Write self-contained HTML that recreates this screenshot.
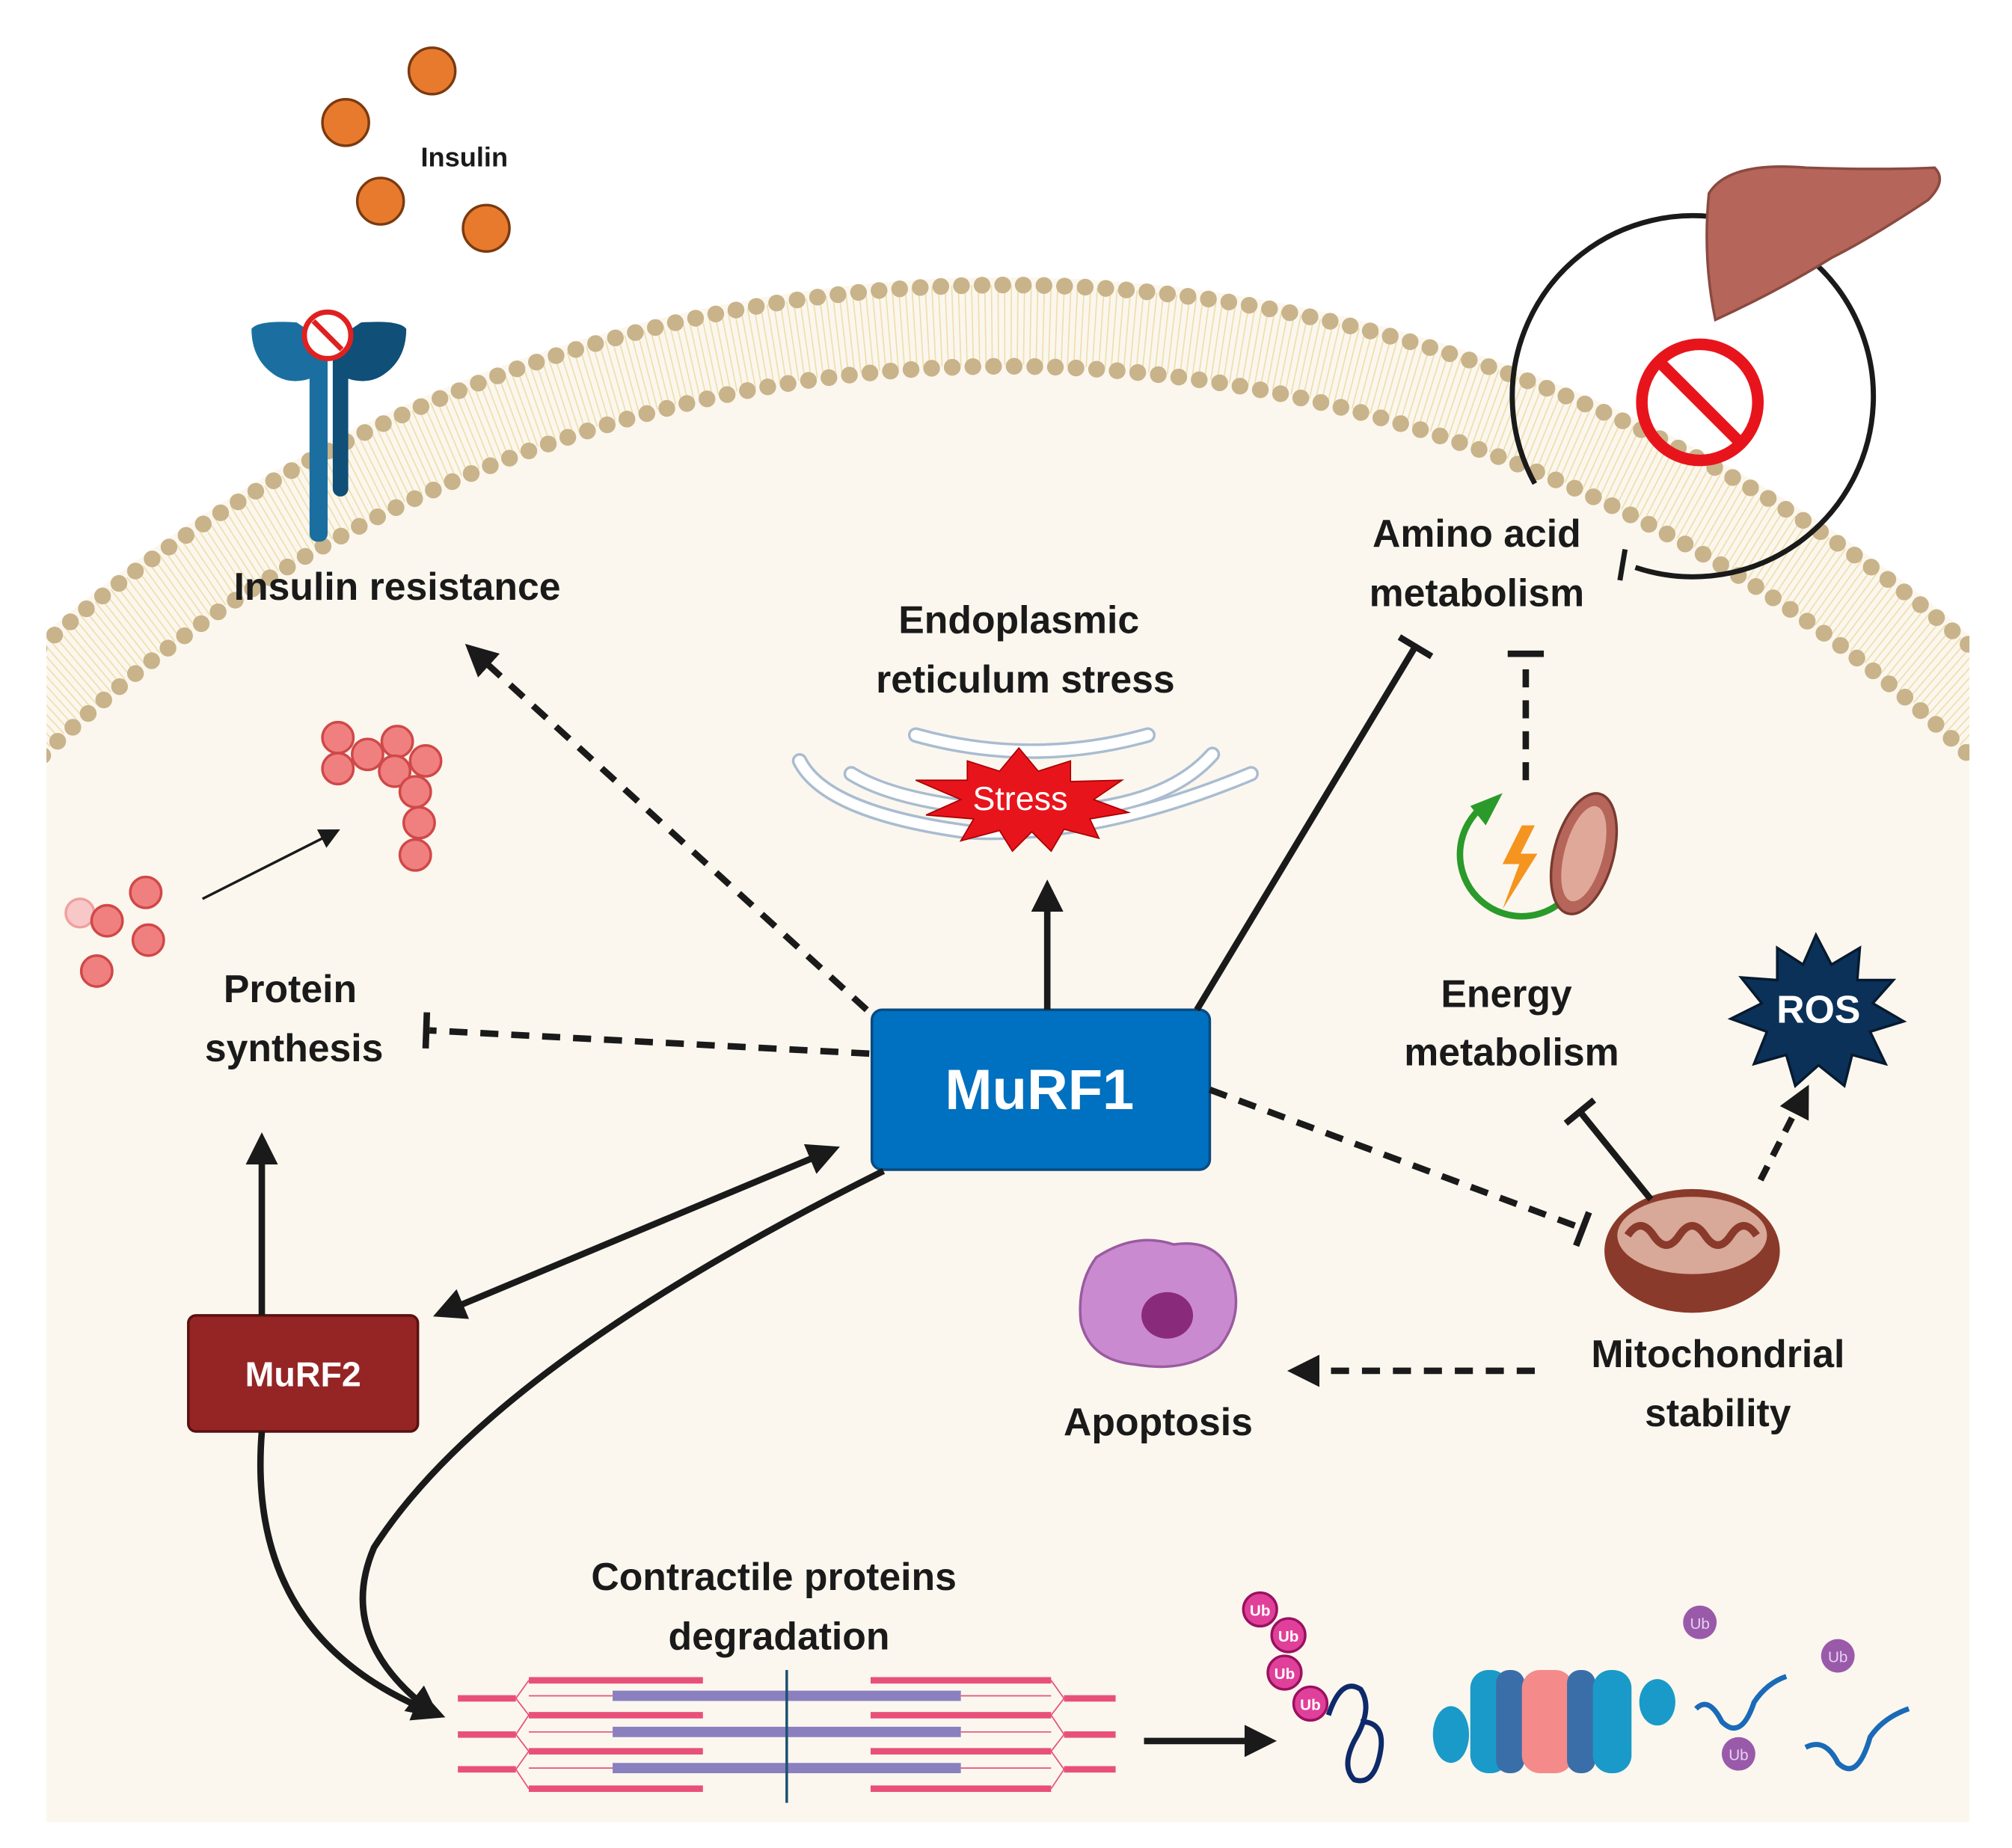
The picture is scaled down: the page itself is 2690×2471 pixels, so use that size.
<!DOCTYPE html>
<html><head><meta charset="utf-8"><style>
html,body{margin:0;padding:0;background:#fff;width:2690px;height:2471px;overflow:hidden;}
svg{display:block;}
text{font-family:"Liberation Sans",sans-serif;font-weight:bold;fill:#1a1a1a;}
</style></head><body>
<svg width="2690" height="2471" viewBox="0 0 1560 1433" xmlns="http://www.w3.org/2000/svg">
<defs>
<clipPath id="cl"><rect x="36" y="0" width="1491" height="1413"/></clipPath>
<marker id="ar" viewBox="0 0 10 10" refX="6" refY="5" markerWidth="5" markerHeight="5" orient="auto-start-reverse"><path d="M0,0 L10,5 L0,10 z" fill="#1a1a1a"/></marker>
<marker id="ar2" viewBox="0 0 10 10" refX="6" refY="5" markerWidth="8" markerHeight="8" orient="auto"><path d="M0,0 L10,5 L0,10 z" fill="#1a1a1a"/></marker>
</defs>
<rect width="1560" height="1433" fill="#fff"/>
<g clip-path="url(#cl)">
<circle cx="780" cy="1359" r="1144" fill="#fbf7ee"/>
<circle cx="780" cy="1359" r="1107" fill="none" stroke="#efdfae" stroke-width="62" stroke-dasharray="1 4"/>
<circle cx="780" cy="1359" r="1138" fill="none" stroke="#c9b38a" stroke-width="13" stroke-dasharray="0 16" stroke-linecap="round"/>
<circle cx="780" cy="1359" r="1075" fill="none" stroke="#c9b38a" stroke-width="13" stroke-dasharray="0 16" stroke-linecap="round"/>
</g>
<g fill="#e87a2e" stroke="#7a3a10" stroke-width="2">
<circle cx="335" cy="55" r="18"/><circle cx="268" cy="95" r="18"/><circle cx="295" cy="156" r="18"/><circle cx="377" cy="177" r="18"/></g>
<text x="360" y="129" font-size="21" text-anchor="middle">Insulin</text>
<path d="M195,255 Q200,248 230,250 L248,262 L248,290 Q230,300 215,292 Q195,280 195,255z" fill="#1a6fa0"/>
<path d="M315,255 Q310,248 280,250 L262,262 L262,290 Q280,300 295,292 Q315,280 315,255z" fill="#0f4f78"/>
<rect x="240" y="265" width="14" height="155" rx="6" fill="#1a6fa0"/>
<rect x="258" y="265" width="12" height="120" rx="6" fill="#0f4f78"/>
<circle cx="254" cy="260" r="18" fill="#fff" stroke="#e02020" stroke-width="4"/>
<line x1="243" y1="249" x2="265" y2="271" stroke="#e02020" stroke-width="4"/>
<text x="308" y="465" font-size="30" text-anchor="middle">Insulin resistance</text>
<g fill="none" stroke="#a9bcd0" stroke-width="12" stroke-linecap="round">
<path d="M620,590 Q640,630 750,645 Q850,650 970,600"/>
<path d="M660,600 Q700,625 800,630 Q900,630 940,585"/>
<path d="M710,570 Q800,595 890,570"/>
</g>
<g fill="none" stroke="#fff" stroke-width="8" stroke-linecap="round">
<path d="M620,590 Q640,630 750,645 Q850,650 970,600"/>
<path d="M660,600 Q700,625 800,630 Q900,630 940,585"/>
<path d="M710,570 Q800,595 890,570"/>
</g>
<polygon points="790,580 805,598 830,590 830,606 870,605 848,620 875,630 845,635 852,650 825,643 815,660 800,645 785,660 775,644 745,652 755,635 718,632 745,620 710,605 750,605 750,590 775,598" fill="#e8141c" stroke="#a00" stroke-width="1"/>
<text x="791" y="628" font-size="26" text-anchor="middle" style="fill:#fff;font-weight:normal">Stress</text>
<text x="790" y="491" font-size="30" text-anchor="middle">Endoplasmic</text>
<text x="795" y="537" font-size="30" text-anchor="middle">reticulum stress</text>
<path d="M1190,375 A140,140 0 1 1 1268,440" fill="none" stroke="#1a1a1a" stroke-width="4"/>
<line x1="1260" y1="426" x2="1256" y2="450" stroke="#1a1a1a" stroke-width="4"/>
<path d="M1325,150 Q1340,125 1400,130 Q1460,132 1500,130 Q1510,140 1495,155 Q1450,185 1420,200 Q1380,225 1330,248 Q1320,200 1325,150z" fill="#b5655a" stroke="#8a4a40" stroke-width="2"/>
<circle cx="1318" cy="312" r="45" fill="none" stroke="#e8141c" stroke-width="9"/>
<line x1="1286" y1="280" x2="1350" y2="344" stroke="#e8141c" stroke-width="9"/>
<text x="1145" y="424" font-size="30" text-anchor="middle">Amino acid</text>
<text x="1145" y="470" font-size="30" text-anchor="middle">metabolism</text>
<g fill="#f08080" stroke="#d04848" stroke-width="2">
<circle cx="62" cy="708" r="11" fill="#f8c8c8" stroke="#f0a0a0"/>
<circle cx="83" cy="714" r="12"/><circle cx="113" cy="692" r="12"/><circle cx="115" cy="729" r="12"/><circle cx="75" cy="753" r="12"/>
<circle cx="262" cy="572" r="12"/><circle cx="285" cy="585" r="12"/><circle cx="308" cy="575" r="12"/><circle cx="262" cy="596" r="12"/>
<circle cx="306" cy="598" r="12"/><circle cx="330" cy="590" r="12"/><circle cx="322" cy="614" r="12"/><circle cx="325" cy="638" r="12"/><circle cx="322" cy="663" r="12"/>
</g>
<line x1="157" y1="697" x2="258" y2="646" stroke="#1a1a1a" stroke-width="2" marker-end="url(#ar2)"/>
<text x="225" y="777" font-size="30" text-anchor="middle">Protein</text>
<text x="228" y="823" font-size="30" text-anchor="middle">synthesis</text>
<path d="M1210,700 A48,48 0 1 1 1150,625" fill="none" stroke="#2a9a2a" stroke-width="5"/>
<polygon points="1140,625 1165,615 1152,640" fill="#2a9a2a"/>
<polygon points="1180,640 1165,670 1178,670 1165,705 1192,662 1179,662 1190,640" fill="#f5941e"/>
<ellipse cx="1228" cy="662" rx="23" ry="48" transform="rotate(15 1228 662)" fill="#b5655a" stroke="#7a3a30" stroke-width="2"/>
<ellipse cx="1228" cy="662" rx="15" ry="38" transform="rotate(15 1228 662)" fill="#e0a898"/>
<text x="1168" y="781" font-size="30" text-anchor="middle">Energy</text>
<text x="1172" y="826" font-size="30" text-anchor="middle">metabolism</text>
<polygon points="1408,725 1420,748 1442,735 1440,760 1468,760 1452,778 1476,792 1450,800 1462,825 1436,818 1430,842 1410,826 1392,842 1385,818 1360,825 1370,800 1342,790 1366,778 1350,758 1378,760 1378,735 1398,748" fill="#0c3158" stroke="#061a30" stroke-width="2"/>
<text x="1410" y="793" font-size="30" text-anchor="middle" style="fill:#fff">ROS</text>
<ellipse cx="1312" cy="970" rx="68" ry="48" fill="#8a3a2a"/>
<ellipse cx="1312" cy="958" rx="58" ry="30" fill="#d8a898"/>
<path d="M1262,958 q10,-15 20,0 t20,0 t20,0 t20,0 t20,0" fill="none" stroke="#8a3a2a" stroke-width="6"/>
<text x="1332" y="1060" font-size="30" text-anchor="middle">Mitochondrial</text>
<text x="1332" y="1106" font-size="30" text-anchor="middle">stability</text>
<path d="M850,975 Q880,955 910,965 Q945,960 955,990 Q965,1020 945,1045 Q920,1065 880,1058 Q845,1055 838,1025 Q835,995 850,975z" fill="#c98ad0" stroke="#9a5aa0" stroke-width="2"/>
<ellipse cx="905" cy="1020" rx="20" ry="18" fill="#8a2a7a"/>
<text x="898" y="1113" font-size="30" text-anchor="middle">Apoptosis</text>
<rect x="676" y="783" width="262" height="124" rx="8" fill="#0070c0" stroke="#0a4a80" stroke-width="2"/>
<text x="806" y="860" font-size="44" text-anchor="middle" style="fill:#fff">MuRF1</text>
<rect x="146" y="1020" width="178" height="90" rx="6" fill="#952525" stroke="#5a1010" stroke-width="2"/>
<text x="235" y="1075" font-size="27" text-anchor="middle" style="fill:#fff">MuRF2</text>
<g stroke="#1a1a1a" stroke-width="5" fill="none">
<line x1="672" y1="783" x2="368" y2="506" stroke-dasharray="14 10" marker-end="url(#ar)"/>
<line x1="674" y1="817" x2="333" y2="799" stroke-dasharray="14 10"/>
<line x1="331" y1="785" x2="330" y2="813"/>
<line x1="812" y1="783" x2="812" y2="692" marker-end="url(#ar)"/>
<line x1="928" y1="783" x2="1097" y2="502"/>
<line x1="1085" y1="494" x2="1110" y2="509"/>
<line x1="1183" y1="605" x2="1183" y2="507" stroke-dasharray="14 10"/>
<line x1="1169" y1="507" x2="1197" y2="507"/>
<line x1="938" y1="845" x2="1228" y2="953" stroke-dasharray="14 10"/>
<line x1="1222" y1="966" x2="1232" y2="940"/>
<line x1="1280" y1="930" x2="1225" y2="862"/>
<line x1="1214" y1="871" x2="1236" y2="853"/>
<line x1="1365" y1="915" x2="1398" y2="850" stroke-dasharray="12 9" marker-end="url(#ar)"/>
<line x1="1190" y1="1063" x2="1008" y2="1063" stroke-dasharray="14 10" marker-end="url(#ar)"/>
<line x1="345" y1="1017" x2="642" y2="893" marker-start="url(#ar)" marker-end="url(#ar)"/>
<path d="M685,908 Q380,1060 290,1200 Q260,1270 333,1326" marker-end="url(#ar)"/>
<line x1="203" y1="1020" x2="203" y2="888" marker-end="url(#ar)"/>
<path d="M203,1110 Q190,1270 336,1328" marker-end="url(#ar)"/>
<line x1="887" y1="1350" x2="980" y2="1350" marker-end="url(#ar)"/>
</g>
<text x="600" y="1233" font-size="30" text-anchor="middle">Contractile proteins</text>
<text x="604" y="1279" font-size="30" text-anchor="middle">degradation</text>
<g>
<g stroke="#e8507a" stroke-width="5"><line x1="410" y1="1303" x2="545" y2="1303"/><line x1="675" y1="1303" x2="815" y2="1303"/>
<line x1="410" y1="1330" x2="545" y2="1330"/><line x1="675" y1="1330" x2="815" y2="1330"/>
<line x1="410" y1="1358" x2="545" y2="1358"/><line x1="675" y1="1358" x2="815" y2="1358"/>
<line x1="410" y1="1387" x2="545" y2="1387"/><line x1="675" y1="1387" x2="815" y2="1387"/>
<line x1="355" y1="1317" x2="400" y2="1317"/><line x1="355" y1="1345" x2="400" y2="1345"/><line x1="355" y1="1372" x2="400" y2="1372"/>
<line x1="825" y1="1317" x2="865" y2="1317"/><line x1="825" y1="1345" x2="865" y2="1345"/><line x1="825" y1="1372" x2="865" y2="1372"/></g>
<g stroke="#8a80c0" stroke-width="8"><line x1="475" y1="1315" x2="745" y2="1315"/><line x1="475" y1="1343" x2="745" y2="1343"/><line x1="475" y1="1371" x2="745" y2="1371"/></g>
<g stroke="#e8507a" stroke-width="1" fill="none"><path d="M400,1317 L410,1303 M400,1317 L410,1330 M400,1345 L410,1330 M400,1345 L410,1358 M400,1372 L410,1358 M400,1372 L410,1387 M825,1317 L815,1303 M825,1317 L815,1330 M825,1345 L815,1330 M825,1345 L815,1358 M825,1372 L815,1358 M825,1372 L815,1387"/>
<line x1="410" y1="1315" x2="475" y2="1315"/><line x1="410" y1="1343" x2="475" y2="1343"/><line x1="410" y1="1371" x2="475" y2="1371"/>
<line x1="745" y1="1315" x2="815" y2="1315"/><line x1="745" y1="1343" x2="815" y2="1343"/><line x1="745" y1="1371" x2="815" y2="1371"/></g>
<line x1="610" y1="1295" x2="610" y2="1398" stroke="#1a5070" stroke-width="2"/>
</g>
<g fill="#e0409a" stroke="#9a1060" stroke-width="2">
<circle cx="977" cy="1248" r="13"/><circle cx="999" cy="1268" r="13"/><circle cx="996" cy="1297" r="13"/><circle cx="1016" cy="1321" r="13"/></g>
<g font-size="12" text-anchor="middle">
<text x="977" y="1253" style="fill:#fff">Ub</text><text x="999" y="1273" style="fill:#fff">Ub</text><text x="996" y="1302" style="fill:#fff">Ub</text><text x="1016" y="1326" style="fill:#fff">Ub</text></g>
<path d="M1030,1330 q10,-30 25,-20 q10,15 -5,40 q-10,20 0,30 q15,5 20,-20 q5,-25 -15,-25" fill="none" stroke="#0f2a6a" stroke-width="4"/>
<g>
<ellipse cx="1125" cy="1345" rx="14" ry="22" fill="#1a9ac8"/>
<rect x="1140" y="1295" width="30" height="80" rx="14" fill="#1a9ac8"/>
<rect x="1160" y="1295" width="22" height="80" rx="10" fill="#3a6ea8"/>
<rect x="1180" y="1295" width="40" height="80" rx="14" fill="#f58a8a"/>
<rect x="1215" y="1295" width="22" height="80" rx="10" fill="#3a6ea8"/>
<rect x="1235" y="1295" width="30" height="80" rx="14" fill="#1a9ac8"/>
<ellipse cx="1285" cy="1320" rx="14" ry="18" fill="#1a9ac8"/>
</g>
<g fill="none" stroke="#1a6ab8" stroke-width="4">
<path d="M1315,1325 q10,-10 20,10 q15,15 25,-15 q10,-15 25,-20"/>
<path d="M1400,1355 q15,-8 25,12 q15,15 25,-20 q10,-15 30,-22"/>
</g>
<g fill="#9a5aaa"><circle cx="1318" cy="1258" r="13"/><circle cx="1425" cy="1284" r="13"/><circle cx="1348" cy="1360" r="13"/></g>
<g font-size="12" text-anchor="middle"><text x="1318" y="1263" style="fill:#e8d0f0;font-weight:normal">Ub</text><text x="1425" y="1289" style="fill:#e8d0f0;font-weight:normal">Ub</text><text x="1348" y="1365" style="fill:#e8d0f0;font-weight:normal">Ub</text></g>
</svg>
</body></html>
